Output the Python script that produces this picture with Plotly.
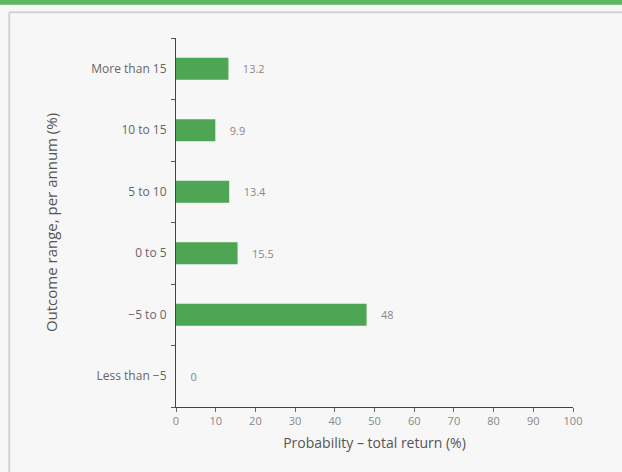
import plotly.graph_objects as go

categories = ["Less than \u22125", "\u22125 to 0", "0 to 5", "5 to 10", "10 to 15", "More than 15"]
values = [0, 48, 15.5, 13.4, 9.9, 13.2]
labels = ["0", "48", "15.5", "13.4", "9.9", "13.2"]
x_ticks = list(range(0, 101, 10))

fig = go.Figure(go.Bar(
    x=values, y=categories, orientation="h",
    marker=dict(color="#4ea553", line=dict(width=0)),
    width=0.36,
    text=labels, texttemplate="    %{text}", textposition="outside", cliponaxis=False,
    textfont=dict(size=11, color="#888888", family="Open Sans"),
))

fig.update_layout(
    width=622, height=472,
    margin=dict(l=176, r=49, t=38, b=65),
    paper_bgcolor="#f7f7f8", plot_bgcolor="#f7f7f8",
    font=dict(family="Open Sans", color="#666666", size=11),
    showlegend=False,
    xaxis=dict(
        range=[0, 100], tickvals=x_ticks, showgrid=False, zeroline=False,
        showline=True, linecolor="#444444", linewidth=1,
        ticks="outside", ticklen=4, tickcolor="#666666",
        tickfont=dict(size=11, color="#888888"),
        title=dict(text="Probability \u2013 total return (%)", font=dict(size=14, color="#555555"), standoff=10),
    ),
    yaxis=dict(
        categoryorder="array", categoryarray=categories,
        tickson="boundaries", ticks="outside", ticklen=4, tickcolor="#555555",
        ticklabelstandoff=6,
        showgrid=False, zeroline=False,
        showline=True, linecolor="#444444", linewidth=1,
        tickfont=dict(size=12, color="#666666"),
        title=dict(text="Outcome range, per annum (%)", font=dict(size=15, color="#555555"), standoff=30),
    ),
    shapes=[
        dict(type="rect", xref="paper", yref="paper", x0=-0.5, x1=1.2, y0=1.09, y1=1.2,
             fillcolor="#5cb85c", line=dict(width=0), layer="below"),
        dict(type="line", xref="paper", yref="paper", x0=-0.42, x1=1.2, y0=1.07, y1=1.07,
             line=dict(color="#d2d2d6", width=2)),
        dict(type="line", xref="paper", yref="paper", x0=-0.42, x1=-0.42, y0=-0.2, y1=1.07,
             line=dict(color="#d2d2d6", width=2)),
    ],
)

fig.write_html("out.html")
